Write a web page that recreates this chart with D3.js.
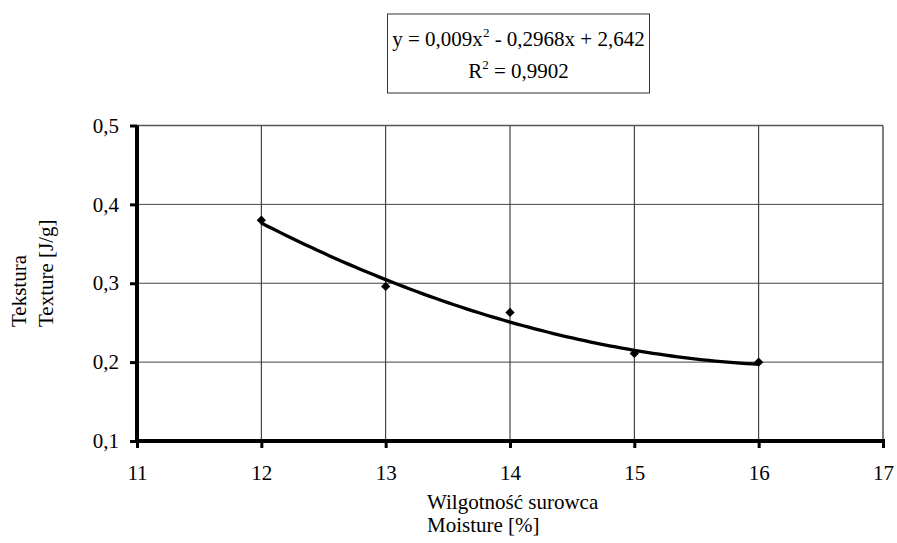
<!DOCTYPE html>
<html>
<head>
<meta charset="utf-8">
<script src="https://cdn.jsdelivr.net/npm/d3@7"></script>
</head>
<body style="margin:0">
<svg id="chart" width="897" height="543"></svg>
<script>
// Data
const moisture = [12, 13, 14, 15, 16];
const texture = [0.380, 0.296, 0.263, 0.211, 0.200];
const xTicks = [11, 12, 13, 14, 15, 16, 17];
const yTicks = [0.1, 0.2, 0.3, 0.4, 0.5];
const trendCoef = [0.009, -0.2968, 2.642]; // a, b, c of shown trendline
const equationText = ["y = 0,009x", "2", " - 0,2968x + 2,642"];
const r2Text = ["R", "2", " = 0,9902"];
const xTitle = ["Wilgotność surowca", "Moisture [%]"];
const yTitle = ["Tekstura", "Texture [J/g]"];

const FONT = '"Liberation Serif", monospace';
const FS = 21;
const svg = d3.select("#chart");
const m = {left: 137, right: 883, top: 125.5, bottom: 441};
const x = d3.scaleLinear().domain([11, 17]).range([m.left, m.right]);
const y = d3.scaleLinear().domain([0.1, 0.5]).range([m.bottom, m.top]);
const fmt = d => d3.format(".1f")(d).replace(".", ",");

// gridlines
const g = svg.append("g");
g.selectAll(".vg").data(xTicks.slice(1, -1)).join("line")
  .attr("x1", d => x(d)).attr("x2", d => x(d)).attr("y1", m.top).attr("y2", m.bottom)
  .attr("stroke", "#222").attr("stroke-width", 1);
g.selectAll(".hg").data(yTicks.slice(1, -1)).join("line")
  .attr("x1", m.left).attr("x2", m.right).attr("y1", d => y(d)).attr("y2", d => y(d))
  .attr("stroke", "#444").attr("stroke-width", 1);
g.append("line").attr("x1", m.left).attr("x2", m.right).attr("y1", m.top).attr("y2", m.top)
  .attr("stroke", "#555").attr("stroke-width", 1.5);
g.append("line").attr("x1", m.right).attr("x2", m.right).attr("y1", m.top).attr("y2", m.bottom)
  .attr("stroke", "#555").attr("stroke-width", 1.5);

// axes
const xAxis = svg.append("g").attr("transform", `translate(0,${m.bottom})`)
  .call(d3.axisBottom(x).tickValues(xTicks).tickFormat(d => d).tickSizeInner(7).tickSizeOuter(0).tickPadding(17));
const yAxis = svg.append("g").attr("transform", `translate(${m.left},0)`)
  .call(d3.axisLeft(y).tickValues(yTicks).tickFormat(fmt).tickSizeInner(7).tickSizeOuter(0).tickPadding(11));
[xAxis, yAxis].forEach(a => {
  a.attr("font-family", null).attr("font-size", null);
  a.select(".domain").attr("stroke", "#000").attr("stroke-width", 4);
  a.selectAll(".tick line").attr("stroke", "#000").attr("stroke-width", 3);
  a.selectAll(".tick text").attr("font-size", FS).style("font-family", FONT).attr("fill", "#000");
});
xAxis.select(".domain").attr("d", `M${m.left - 2},0H${m.right + 2}`);
yAxis.select(".domain").attr("d", `M0,${m.top}V${m.bottom + 2}`);

// trendline
const trendX = d3.range(12, 16.0001, 0.05);
const line = d3.line().x(d => x(d)).y(d => y(trendCoef[0]*d*d + trendCoef[1]*d + trendCoef[2]));
svg.append("path").datum(trendX).attr("d", line)
  .attr("fill", "none").attr("stroke", "#000").attr("stroke-width", 3.3).attr("stroke-linejoin", "round");

// markers
svg.selectAll(".pt").data(moisture).join("path")
  .attr("transform", (d, i) => `translate(${x(d)},${y(texture[i])})`)
  .attr("d", d3.symbol(d3.symbolDiamond2, 55)())
  .attr("fill", "#000");

// equation box
svg.append("rect").attr("x", 387.5).attr("y", 14).attr("width", 262).attr("height", 79)
  .attr("fill", "#fff").attr("stroke", "#333").attr("stroke-width", 1);
function supText(parts, cx, by) {
  const t = svg.append("text").attr("x", cx).attr("y", by).attr("text-anchor", "middle")
    .attr("font-size", FS).style("font-family", FONT).attr("fill", "#000");
  t.append("tspan").text(parts[0]);
  t.append("tspan").attr("font-size", 13).attr("dy", -9).text(parts[1]);
  t.append("tspan").attr("dy", 9).text(parts[2]);
}
supText(equationText, 518.5, 46);
supText(r2Text, 518.5, 78);

// axis titles
svg.selectAll(".xt").data(xTitle).join("text")
  .attr("x", 427).attr("y", (d, i) => 509 + i * 23)
  .attr("font-size", FS).style("font-family", FONT).attr("fill", "#000").text(d => d);
svg.selectAll(".yt").data(yTitle).join("text")
  .attr("transform", (d, i) => `translate(${26 + i * 27},327) rotate(-90)`)
  .attr("font-size", FS).style("font-family", FONT).attr("fill", "#000").text(d => d);
</script>
</body>
</html>
